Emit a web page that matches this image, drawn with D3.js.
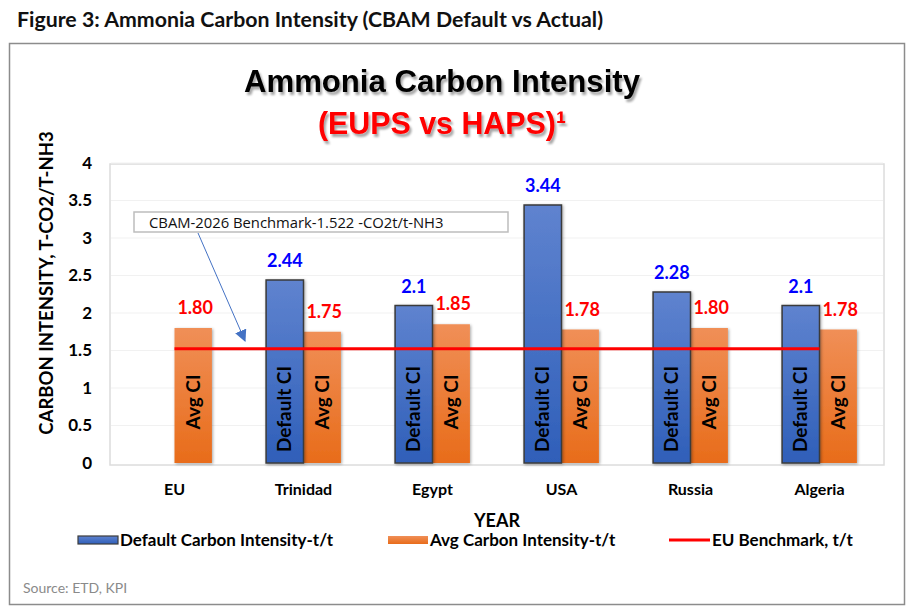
<!DOCTYPE html>
<html>
<head>
<meta charset="utf-8">
<script src="https://cdn.jsdelivr.net/npm/d3@7"></script>
<style>
  body { margin: 0; background: #fff; }
  svg { display: block; }
</style>
</head>
<body>
<svg id="chart" width="906" height="608"></svg>
<script>
var categories = ['EU', 'Trinidad', 'Egypt', 'USA', 'Russia', 'Algeria'];
var defaultCI = [null, 2.44, 2.1, 3.44, 2.28, 2.1];
var defaultLabels = ['', '2.44', '2.1', '3.44', '2.28', '2.1'];
var avgCI = [1.80, 1.75, 1.85, 1.78, 1.80, 1.78];
var avgLabels = ['1.80', '1.75', '1.85', '1.78', '1.80', '1.78'];
var benchmark = [1.522, 1.522, 1.522, 1.522, 1.522, 1.522];
var yTicks = [0, 0.5, 1, 1.5, 2, 2.5, 3, 3.5, 4];

var FONT = 'Lato, "Open Sans", sans-serif';

var svg = d3.select('#chart');

// gradients + shadows
var defs = svg.append('defs');
var gBlue = defs.append('linearGradient').attr('id', 'gBlue')
    .attr('x1', 0).attr('y1', 0).attr('x2', 0).attr('y2', 1);
gBlue.append('stop').attr('offset', '0%').attr('stop-color', '#5f83cf');
gBlue.append('stop').attr('offset', '100%').attr('stop-color', '#2f5fb9');
var gOrange = defs.append('linearGradient').attr('id', 'gOrange')
    .attr('x1', 0).attr('y1', 0).attr('x2', 0).attr('y2', 1);
gOrange.append('stop').attr('offset', '0%').attr('stop-color', '#f08f57');
gOrange.append('stop').attr('offset', '100%').attr('stop-color', '#e86c1a');

var shadow = defs.append('filter').attr('id', 'shadow')
    .attr('x', '-20%').attr('y', '-20%').attr('width', '140%').attr('height', '140%');
shadow.append('feDropShadow').attr('dx', 1).attr('dy', 1).attr('stdDeviation', 1.5)
    .attr('flood-color', '#000').attr('flood-opacity', 0.35);

var tshadow = defs.append('filter').attr('id', 'tshadow')
    .attr('x', '-5%').attr('y', '-20%').attr('width', '110%').attr('height', '150%');
tshadow.append('feDropShadow').attr('dx', 2).attr('dy', 3).attr('stdDeviation', 1.2)
    .attr('flood-color', '#000').attr('flood-opacity', 0.35);

// caption + frame
svg.append('text')
    .attr('x', 17).attr('y', 27)
    .attr('font-family', FONT).attr('font-weight', 700).attr('font-size', 20)
    .attr('fill', '#111')
    .attr('textLength', 586).attr('lengthAdjust', 'spacingAndGlyphs')
    .text('Figure 3: Ammonia Carbon Intensity (CBAM Default vs Actual)');

svg.append('rect')
    .attr('x', 9.5).attr('y', 43.5).attr('width', 895).attr('height', 561)
    .attr('fill', 'none').attr('stroke', '#8c8c8c').attr('stroke-width', 1.5);

// titles
svg.append('text')
    .attr('x', 442).attr('y', 92).attr('text-anchor', 'middle')
    .attr('font-family', '"Liberation Sans", Arial, sans-serif').attr('font-weight', 700)
    .attr('font-size', 32).attr('fill', '#000')
    .attr('textLength', 396).attr('lengthAdjust', 'spacingAndGlyphs')
    .attr('filter', 'url(#tshadow)')
    .text('Ammonia Carbon Intensity');

svg.append('text')
    .attr('x', 442).attr('y', 134).attr('text-anchor', 'middle')
    .attr('font-family', '"Liberation Sans", Arial, sans-serif').attr('font-weight', 700)
    .attr('font-size', 32).attr('fill', '#ff0000')
    .attr('textLength', 248).attr('lengthAdjust', 'spacingAndGlyphs')
    .attr('filter', 'url(#tshadow)')
    .text('(EUPS vs HAPS)¹');

// scales
var x = d3.scaleBand().domain(categories).range([110, 884]).padding(0);
var y = d3.scaleLinear().domain([0, 4]).range([463, 163]);
var barW = x.bandwidth() * 0.29;
var cx = function(c){ return x(c) + x.bandwidth() / 2; };

// plot area
svg.append('rect')
    .attr('x', 110).attr('y', 164).attr('width', 774).attr('height', 301)
    .attr('fill', '#fff').attr('stroke', '#dcdcdc').attr('stroke-width', 1.5);

svg.append('g').selectAll('line')
    .data(yTicks.slice(1))
    .enter().append('line')
        .attr('x1', 111).attr('x2', 883)
        .attr('y1', function(d){ return y(d); })
        .attr('y2', function(d){ return y(d); })
        .attr('stroke', '#f1f1f1').attr('stroke-width', 1);

// y axis (labels only)
var yAxis = svg.append('g')
    .attr('transform', 'translate(100,0)')
    .call(d3.axisLeft(y).tickValues(yTicks).tickSize(0).tickPadding(8)
        .tickFormat(function(d){ return String(d); }));
yAxis.select('.domain').remove();
yAxis.selectAll('text')
    .attr('font-family', FONT).attr('font-weight', 700).attr('font-size', 17)
    .attr('fill', '#000');

svg.append('text')
    .attr('transform', 'translate(53,283) rotate(-90)')
    .attr('text-anchor', 'middle')
    .attr('font-family', FONT).attr('font-weight', 700).attr('font-size', 18.5)
    .attr('fill', '#000')
    .text('CARBON INTENSITY, T-CO2/T-NH3');

// x axis (labels only)
var xAxis = svg.append('g')
    .attr('transform', 'translate(0,470)')
    .call(d3.axisBottom(x).tickSize(0).tickPadding(14));
xAxis.select('.domain').remove();
xAxis.selectAll('text')
    .attr('font-family', FONT).attr('font-weight', 700).attr('font-size', 16)
    .attr('fill', '#000');

svg.append('text')
    .attr('x', 497).attr('y', 527).attr('text-anchor', 'middle')
    .attr('font-family', FONT).attr('font-weight', 700).attr('font-size', 18)
    .attr('fill', '#000')
    .text('YEAR');

// bars
var rows = categories.map(function(c, i){
    return {cat: c, def: defaultCI[i], defLabel: defaultLabels[i], avg: avgCI[i], avgLabel: avgLabels[i]};
});

var gBars = svg.append('g');
gBars.selectAll('.bar-avg')
    .data(rows)
    .enter().append('rect')
        .attr('class', 'bar-avg')
        .attr('x', function(d){ return cx(d.cat); })
        .attr('y', function(d){ return y(d.avg); })
        .attr('width', barW)
        .attr('height', function(d){ return y(0) - y(d.avg); })
        .attr('fill', 'url(#gOrange)')
        .attr('filter', 'url(#shadow)');

gBars.selectAll('.bar-def')
    .data(rows.filter(function(d){ return d.def != null; }))
    .enter().append('rect')
        .attr('class', 'bar-def')
        .attr('x', function(d){ return cx(d.cat) - barW; })
        .attr('y', function(d){ return y(d.def); })
        .attr('width', barW)
        .attr('height', function(d){ return y(0) - y(d.def); })
        .attr('fill', 'url(#gBlue)')
        .attr('stroke', '#3b3b3b').attr('stroke-width', 1.5)
        .attr('filter', 'url(#shadow)');

// inside labels
gBars.selectAll('.in-def')
    .data(rows.filter(function(d){ return d.def != null; }))
    .enter().append('text')
        .attr('transform', function(d){
            return 'translate(' + (cx(d.cat) - barW / 2 + 6.5) + ',409) rotate(-90)';
        })
        .attr('text-anchor', 'middle')
        .attr('font-family', FONT).attr('font-weight', 700).attr('font-size', 19)
        .attr('fill', '#000')
        .text('Default CI');

gBars.selectAll('.in-avg')
    .data(rows)
    .enter().append('text')
        .attr('transform', function(d){
            return 'translate(' + (cx(d.cat) + barW / 2 + 6.5) + ',402) rotate(-90)';
        })
        .attr('text-anchor', 'middle')
        .attr('font-family', FONT).attr('font-weight', 700).attr('font-size', 19)
        .attr('fill', '#000')
        .text('Avg CI');

// value labels
gBars.selectAll('.lab-def')
    .data(rows.filter(function(d){ return d.def != null; }))
    .enter().append('text')
        .attr('x', function(d){ return cx(d.cat) - barW / 2; })
        .attr('y', function(d){ return y(d.def) - 13; })
        .attr('text-anchor', 'middle')
        .attr('font-family', FONT).attr('font-weight', 700).attr('font-size', 18)
        .attr('fill', '#0000ff')
        .text(function(d){ return d.defLabel; });

gBars.selectAll('.lab-avg')
    .data(rows)
    .enter().append('text')
        .attr('x', function(d){ return cx(d.cat) + barW / 2 + 2; })
        .attr('y', function(d){ return y(d.avg) - 14; })
        .attr('text-anchor', 'middle')
        .attr('font-family', FONT).attr('font-weight', 700).attr('font-size', 18)
        .attr('fill', '#ff0000')
        .text(function(d){ return d.avgLabel; });

// benchmark line
var line = d3.line()
    .x(function(d, i){ return cx(categories[i]); })
    .y(function(d){ return y(d); });
svg.append('path')
    .datum(benchmark)
    .attr('d', line)
    .attr('fill', 'none')
    .attr('stroke', '#ff0000').attr('stroke-width', 3);

// annotation
svg.append('rect')
    .attr('x', 134).attr('y', 212).attr('width', 374).attr('height', 20)
    .attr('fill', '#fff').attr('stroke', '#bdbdbd').attr('stroke-width', 1.5);
svg.append('text')
    .attr('x', 149).attr('y', 227.5)
    .attr('font-family', '"Open Sans", sans-serif').attr('font-size', 14.8)
    .attr('fill', '#111')
    .text('CBAM-2026 Benchmark-1.522 -CO2t/t-NH3');

defs.append('marker').attr('id', 'arrow')
    .attr('viewBox', '0 0 10 10').attr('refX', 9).attr('refY', 5)
    .attr('markerWidth', 12).attr('markerHeight', 12).attr('markerUnits', 'userSpaceOnUse')
    .attr('orient', 'auto')
    .append('path').attr('d', 'M0,0 L10,5 L0,10 z').attr('fill', '#4472c4');

svg.append('line')
    .attr('x1', 198).attr('y1', 233)
    .attr('x2', 245).attr('y2', y(1.522) - 8)
    .attr('stroke', '#4472c4').attr('stroke-width', 1)
    .attr('marker-end', 'url(#arrow)');

// legend
var legend = svg.append('g').attr('font-family', FONT).attr('font-weight', 700)
    .attr('font-size', 17).attr('fill', '#000');
legend.append('rect').attr('x', 78).attr('y', 536).attr('width', 40).attr('height', 8)
    .attr('fill', 'url(#gBlue)').attr('stroke', '#3b3b3b').attr('stroke-width', 1.2);
legend.append('text').attr('x', 120).attr('y', 546).text('Default Carbon Intensity-t/t');
legend.append('rect').attr('x', 388).attr('y', 536).attr('width', 40).attr('height', 8)
    .attr('fill', 'url(#gOrange)');
legend.append('text').attr('x', 430).attr('y', 546).text('Avg Carbon Intensity-t/t');
legend.append('line').attr('x1', 669).attr('x2', 710).attr('y1', 540).attr('y2', 540)
    .attr('stroke', '#ff0000').attr('stroke-width', 3);
legend.append('text').attr('x', 712).attr('y', 546).text('EU Benchmark, t/t');

// source
svg.append('text')
    .attr('x', 23).attr('y', 593)
    .attr('font-family', FONT).attr('font-size', 14)
    .attr('fill', '#8a8a8a')
    .text('Source: ETD, KPI');
</script>
</body>
</html>
